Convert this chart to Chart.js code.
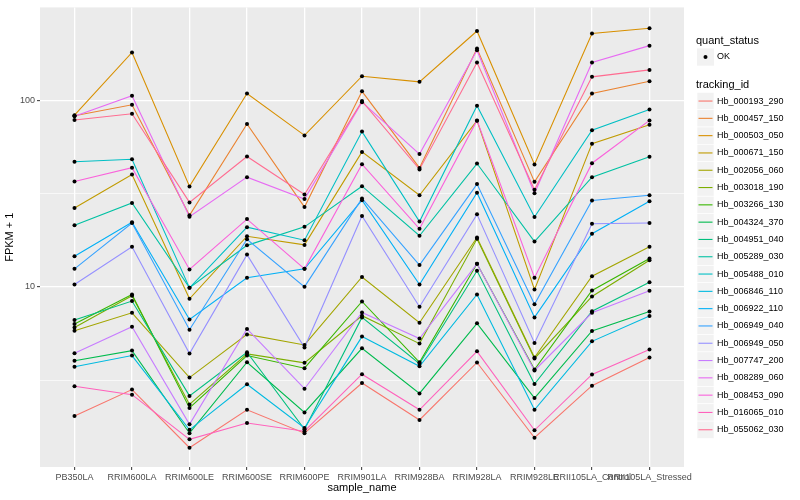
<!DOCTYPE html>
<html>
<head>
<meta charset="utf-8">
<script src="https://cdn.jsdelivr.net/npm/chart.js@4.4.1/dist/chart.umd.min.js"></script>
<style>
  html, body { margin: 0; padding: 0; background: #fff; }
  canvas { display: block; }
</style>
</head>
<body>
<canvas id="chart" width="800" height="500"></canvas>
<script>
// samples on the x axis
const sampleNames = ['PB350LA', 'RRIM600LA', 'RRIM600LE', 'RRIM600SE', 'RRIM600PE', 'RRIM901LA',
  'RRIM928BA', 'RRIM928LA', 'RRIM928LE', 'RRII105LA_Control', 'RRII105LA_Stressed'];

const trackingIds = ['Hb_000193_290', 'Hb_000457_150', 'Hb_000503_050', 'Hb_000671_150', 'Hb_002056_060',
  'Hb_003018_190', 'Hb_003266_130', 'Hb_004324_370', 'Hb_004951_040', 'Hb_005289_030',
  'Hb_005488_010', 'Hb_006846_110', 'Hb_006922_110', 'Hb_006949_040', 'Hb_006949_050',
  'Hb_007747_200', 'Hb_008289_060', 'Hb_008453_090', 'Hb_016065_010', 'Hb_055062_030'];

const quantStatus = ['OK'];

// FPKM + 1, one value per sample
const hb_000193_290 = [2.03, 2.81, 1.37, 2.19, 1.64, 3.05, 1.93, 3.93, 1.55, 2.95, 4.18];
const hb_000457_150 = [82.9, 94.9, 24.2, 74.8, 26.8, 112, 43.5, 190, 36.6, 109, 127];
const hb_000503_050 = [83.4, 181, 34.6, 109, 65.0, 135, 126, 236, 45.4, 229, 244];
const hb_000671_150 = [26.5, 40.1, 8.63, 18.7, 16.8, 53.0, 31.0, 78.0, 9.67, 58.7, 74.2];
const hb_002056_060 = [5.82, 7.26, 3.26, 5.56, 4.88, 11.3, 6.42, 18.4, 4.18, 11.4, 16.4];
const hb_003018_190 = [6.06, 8.95, 2.34, 4.37, 3.91, 7.00, 4.96, 18.1, 4.13, 8.88, 13.9];
const hb_003266_130 = [6.32, 9.10, 2.24, 4.28, 3.66, 8.35, 3.94, 13.3, 3.60, 9.56, 14.2];
const hb_004324_370 = [4.01, 4.55, 1.64, 3.94, 2.12, 4.68, 2.68, 6.37, 2.53, 5.80, 7.38];
const hb_004951_040 = [6.64, 8.39, 2.60, 4.46, 1.72, 6.86, 3.87, 12.2, 3.01, 7.40, 10.6];
const hb_005289_030 = [21.4, 28.2, 9.90, 16.7, 21.0, 34.7, 18.8, 45.9, 17.5, 38.8, 49.9];
const hb_005488_010 = [46.9, 48.4, 9.88, 20.9, 17.8, 68.1, 22.4, 93.7, 23.7, 69.3, 89.5];
const hb_006846_110 = [3.73, 4.28, 1.71, 3.00, 1.75, 5.41, 3.75, 9.10, 2.19, 5.10, 6.97];
const hb_006922_110 = [14.6, 22.2, 6.69, 11.2, 12.5, 29.2, 10.3, 32.0, 6.86, 19.3, 28.8];
const hb_006949_040 = [12.5, 22.0, 5.89, 18.0, 10.0, 29.8, 13.1, 35.6, 8.07, 29.1, 31.0];
const hb_006949_050 = [10.3, 16.4, 4.39, 14.9, 4.73, 24.0, 7.82, 24.5, 5.00, 21.8, 22.0];
const hb_007747_200 = [4.40, 6.11, 1.83, 5.95, 2.84, 7.29, 5.28, 13.3, 3.56, 7.26, 9.52];
const hb_008289_060 = [82.4, 106, 23.8, 38.8, 29.6, 98.0, 51.6, 186, 31.8, 160, 197];
const hb_008453_090 = [36.8, 43.6, 12.4, 23.1, 12.5, 45.5, 20.5, 78.2, 11.2, 46.1, 78.2];
const hb_016065_010 = [2.93, 2.64, 1.52, 1.86, 1.68, 3.40, 2.19, 4.51, 1.70, 3.39, 4.61];
const hb_055062_030 = [78.6, 84.9, 28.4, 50.1, 31.3, 99.3, 42.7, 160, 33.2, 134, 146];

const seriesValues = [hb_000193_290, hb_000457_150, hb_000503_050, hb_000671_150, hb_002056_060,
  hb_003018_190, hb_003266_130, hb_004324_370, hb_004951_040, hb_005289_030,
  hb_005488_010, hb_006846_110, hb_006922_110, hb_006949_040, hb_006949_050,
  hb_007747_200, hb_008289_060, hb_008453_090, hb_016065_010, hb_055062_030];

// log10 axis breaks
const yBreaks = [10, 100];
const yMinorBreaks = [3.162, 31.62];

// ggplot hue palette, 20 levels
const palette = ['#F8766D', '#EA8331', '#D89000', '#C09B00', '#A3A500', '#7CAE00', '#39B600', '#00BB4E',
  '#00BF7D', '#00C1A3', '#00BFC4', '#00BAE0', '#00B0F6', '#35A2FF', '#9590FF', '#C77CFF',
  '#E76BF3', '#FA62DB', '#FF62BC', '#FF6C91'];

const FONT = '"Liberation Sans", Arial, sans-serif';

const lineSets = trackingIds.map((id, i) => ({
  type: 'line',
  label: id,
  data: seriesValues[i].map((v, j) => ({ x: j, y: v })),
  borderColor: palette[i],
  borderWidth: 1.1,
  pointRadius: 0,
  tension: 0,
  fill: false,
  order: 1 + (trackingIds.length - i)
}));

const pointSet = {
  type: 'scatter',
  label: quantStatus[0],
  data: seriesValues.flatMap(vals => vals.map((v, j) => ({ x: j, y: v }))),
  pointRadius: 2,
  pointBackgroundColor: '#000000',
  pointBorderWidth: 0,
  showLine: false,
  order: 0
};

// grey panel like theme_gray
const panelBg = {
  id: 'panelBg',
  beforeDraw(chart) {
    const { ctx, chartArea: a } = chart;
    ctx.save();
    ctx.fillStyle = '#ffffff';
    ctx.fillRect(0, 0, chart.width, chart.height);
    ctx.fillStyle = '#EBEBEB';
    ctx.fillRect(a.left, a.top, a.right - a.left, a.bottom - a.top);
    ctx.restore();
  }
};

// two-part legend on the right
const ggLegend = {
  id: 'ggLegend',
  afterDraw(chart) {
    const ctx = chart.ctx;
    const kx = 697, kw = 17, kh = 17.3;
    ctx.save();
    ctx.textBaseline = 'middle';
    ctx.textAlign = 'left';

    ctx.fillStyle = '#000';
    ctx.font = '11px ' + FONT;
    ctx.fillText('quant_status', 696, 41);

    ctx.fillStyle = '#F2F2F2';
    ctx.fillRect(kx, 48.4, kw, kh);
    ctx.fillStyle = '#000';
    ctx.beginPath();
    ctx.arc(kx + kw / 2, 57, 2, 0, Math.PI * 2);
    ctx.fill();
    ctx.font = '9px ' + FONT;
    ctx.fillText(quantStatus[0], 717, 57);

    ctx.font = '11px ' + FONT;
    ctx.fillText('tracking_id', 696, 85);

    trackingIds.forEach((id, i) => {
      const top = 92.4 + i * kh;
      ctx.fillStyle = '#F2F2F2';
      ctx.fillRect(kx, top, kw, kh);
      ctx.strokeStyle = '#ffffff';
      ctx.lineWidth = 0.6;
      ctx.strokeRect(kx, top, kw, kh);
      ctx.strokeStyle = palette[i];
      ctx.lineWidth = 1.1;
      ctx.beginPath();
      ctx.moveTo(kx + 1.5, top + kh / 2);
      ctx.lineTo(kx + kw - 1.5, top + kh / 2);
      ctx.stroke();
      ctx.fillStyle = '#000';
      ctx.font = '9px ' + FONT;
      ctx.fillText(id, 717, top + kh / 2);
    });
    ctx.restore();
  }
};

const isMajor = ctx => ctx.tick && yBreaks.includes(ctx.tick.value);

new Chart(document.getElementById('chart'), {
  type: 'line',
  data: { datasets: [pointSet, ...lineSets] },
  options: {
    responsive: false,
    devicePixelRatio: 1,
    animation: false,
    layout: { padding: { left: 0, right: 116, top: 5, bottom: 0 } },
    plugins: { legend: { display: false }, tooltip: { enabled: false } },
    scales: {
      x: {
        type: 'linear',
        min: -0.6,
        max: sampleNames.length - 1 + 0.6,
        afterBuildTicks: s => { s.ticks = sampleNames.map((n, i) => ({ value: i })); },
        afterFit: s => { s.height = 33; },
        ticks: {
          autoSkip: false, maxRotation: 0, minRotation: 0, padding: 2,
          color: '#4D4D4D', font: { family: FONT, size: 9 },
          callback: v => sampleNames[v]
        },
        grid: { color: '#ffffff', lineWidth: 1.3, tickColor: '#333333', tickLength: 3, tickWidth: 1 },
        border: { display: false },
        title: {
          display: true, text: 'sample_name', color: '#000',
          font: { family: FONT, size: 11 }, padding: { top: 0, bottom: 5 }
        }
      },
      y: {
        type: 'logarithmic',
        min: 1.08,
        max: 316,
        afterBuildTicks: s => {
          s.ticks = yMinorBreaks.concat(yBreaks).sort((a, b) => a - b).map(v => ({ value: v }));
        },
        afterFit: s => { s.width = 40; },
        ticks: {
          padding: 2, color: '#4D4D4D', font: { family: FONT, size: 9 },
          callback: v => (yBreaks.includes(v) ? String(v) : '')
        },
        grid: {
          color: '#ffffff',
          lineWidth: c => (isMajor(c) ? 1.3 : 0.65),
          tickColor: c => (isMajor(c) ? '#333333' : 'rgba(0,0,0,0)'),
          tickLength: 3,
          tickWidth: 1
        },
        border: { display: false },
        title: {
          display: true, text: 'FPKM + 1', color: '#000',
          font: { family: FONT, size: 11 }, padding: { top: 3, bottom: 0 }
        }
      }
    }
  },
  plugins: [panelBg, ggLegend]
});
</script>
</body>
</html>
